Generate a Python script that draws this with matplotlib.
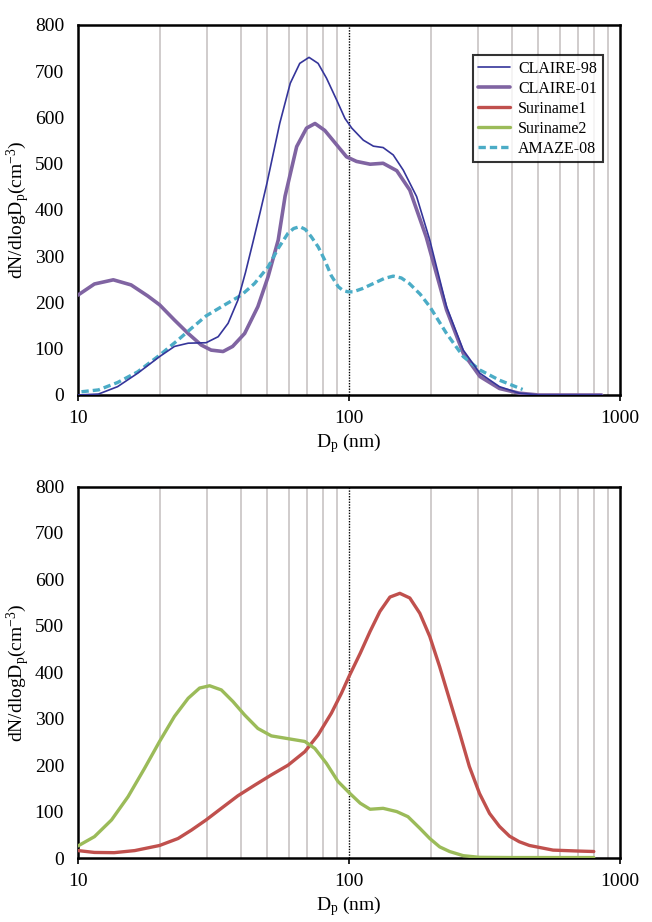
import matplotlib
matplotlib.use('Agg')
import matplotlib.pyplot as plt
from matplotlib.ticker import FixedLocator, NullLocator, FixedFormatter

plt.rcParams['font.family'] = ['Liberation Serif', 'DejaVu Serif']
plt.rcParams['mathtext.fontset'] = 'custom'
plt.rcParams['mathtext.rm'] = 'Liberation Serif'

# data (Dp in nm, dN/dlogDp in cm-3)
claire98_x = [10, 11.9, 14.0, 16.6, 20, 22.7, 25.5, 29.7, 32.9, 35.8, 38.9, 41.5, 44.2, 47.0, 49.8, 55.5,
              60.7, 65.8, 71.2, 76.9, 82.6, 90, 96.6, 102.4, 112.9, 123, 133.6, 145.6, 158.6, 177.6,
              198.6, 229, 264, 304, 359, 424, 500, 855]
claire98_y = [0, 2, 18, 47, 83, 105, 112, 113, 126, 155, 205, 265, 330, 395, 458, 587,
              674, 717, 730, 717, 685, 638, 598, 577, 551, 538, 535, 519, 486, 429,
              335, 191, 97, 47, 18, 4, 0, 0]

claire01_x = [10, 11.5, 13.5, 15.7, 18.1, 20, 22.7, 25.5, 28.5, 31.0, 34.3, 37.2, 41.2, 46.1, 50.3, 54.8,
              58.1, 64.1, 69.7, 74.9, 81.4, 90, 97.9, 106.6, 119.6, 133.6, 150, 167.6, 192.6,
              229, 264, 304, 359, 424, 500, 855]
claire01_y = [216, 240, 249, 238, 214, 195, 162, 133, 108, 97, 94, 105, 133, 191, 256, 335,
              430, 537, 577, 587, 572, 541, 515, 505, 499, 501, 485, 443, 342,
              184, 90, 40, 14, 4, 0, 0]

suriname1_x = [10, 11.5, 13.6, 16.2, 20, 23.4, 26.2, 29.7, 33.8, 38.9, 44.9, 51.7, 59.6, 68.7, 76.9, 86.1,
               93.8, 100, 110, 119.6, 130, 141.6, 154, 167.6, 182.5, 198.6, 216, 235, 256, 278, 303,
               330, 359, 391, 425, 463, 566, 700, 800]
suriname1_y = [16, 12, 11.5, 16, 27, 42, 60, 82, 107, 134, 157, 179, 200, 229, 265, 312,
               355, 391, 441, 488, 531, 562, 570, 560, 527, 477, 412, 341, 269, 197, 139,
               96, 68, 47, 35, 27, 17, 15, 14]

suriname2_x = [10, 11.5, 13.3, 15.3, 17.6, 20, 22.7, 25.5, 28.1, 30.6, 33.8, 37.3, 41.2, 46.1, 51.7, 59.6,
               68.7, 74.8, 82.5, 91.0, 100.8, 110, 119.6, 133.6, 150, 165, 182.5, 198.6, 216, 235, 264,
               303, 400, 800]
suriname2_y = [26, 46, 82, 132, 193, 251, 305, 344, 366, 371, 362, 337, 308, 279, 263, 257,
               251, 236, 204, 165, 139, 118, 105, 107, 100, 89, 64, 42, 24, 14, 5,
               1.5, 1, 1]

amaze08_x = [10.3, 11.9, 14.0, 16.6, 20, 23.4, 26.2, 29.7, 34.8, 40.1, 44.8, 50.3, 54.8, 59.6, 62.5, 65.8,
             69, 72.6, 77, 81.3, 86, 91.3, 95, 99.2, 103.5, 112, 123, 135, 145.6, 156, 167, 183,
             198.6, 229, 264, 304, 359, 437]
amaze08_y = [7, 11, 27, 50, 86, 119, 144, 171, 195, 216, 241, 277, 317, 350, 360, 364,
             358, 342, 320, 292, 258, 234, 226, 223, 223, 230, 241, 252, 257, 253, 241, 218,
             191, 133, 83, 54, 32, 12]

grid_pos = [20, 30, 40, 50, 60, 70, 80, 90, 200, 300, 400, 500, 600, 700, 800, 900]
y_ticks = [0, 100, 200, 300, 400, 500, 600, 700, 800]

c98 = '#35359a'
c01 = '#8064a2'
cs1 = '#c0504d'
cs2 = '#9bbb59'
cam = '#4bacc6'

fig = plt.figure(figsize=(6.52, 9.22), dpi=100)
ax1 = fig.add_axes([0.1196, 0.5716, 0.8314, 0.4013])
ax2 = fig.add_axes([0.1196, 0.0694, 0.8314, 0.4029])


def style(ax):
    ax.set_xscale('log')
    ax.set_xlim(10, 1000)
    ax.set_ylim(0, 800)
    for g in grid_pos:
        ax.axvline(g, color='#c3bfbf', lw=1.1, zorder=0)
    ax.axvline(100, color='black', lw=1.0, ls=(0, (1, 1)), zorder=0)
    ax.xaxis.set_major_locator(FixedLocator([10, 100, 1000]))
    ax.xaxis.set_major_formatter(FixedFormatter(['10', '100', '1000']))
    ax.xaxis.set_minor_locator(NullLocator())
    ax.set_yticks(y_ticks)
    ax.tick_params(axis='x', length=4, width=1.2, direction='out', labelsize=14, pad=7)
    ax.tick_params(axis='y', length=0, labelsize=14, pad=10)
    for s in ax.spines.values():
        s.set_linewidth(1.8)
        s.set_color('black')
    ax.set_xlabel(r'$\mathregular{D_p}$ (nm)', fontsize=14, labelpad=3)
    ax.set_ylabel(r'dN/dlogD$\mathregular{_p}$(cm$\mathregular{^{-3}}$)', fontsize=14, labelpad=2)


style(ax1)
style(ax2)

kw = dict(solid_joinstyle='round', solid_capstyle='round')
l1, = ax1.plot(claire98_x, claire98_y, color=c98, lw=1.2, label='CLAIRE-98', zorder=4, **kw)
l2, = ax1.plot(claire01_x, claire01_y, color=c01, lw=2.6, label='CLAIRE-01', zorder=3, **kw)
l5, = ax1.plot(amaze08_x, amaze08_y, color=cam, lw=2.4, ls=(0, (2.2, 1.2)), label='AMAZE-08', zorder=3)
l3, = ax2.plot(suriname1_x, suriname1_y, color=cs1, lw=2.4, label='Suriname1', zorder=3, **kw)
l4, = ax2.plot(suriname2_x, suriname2_y, color=cs2, lw=2.4, label='Suriname2', zorder=3, **kw)

leg = ax1.legend([l1, l2, l3, l4, l5], ['CLAIRE-98', 'CLAIRE-01', 'Suriname1', 'Suriname2', 'AMAZE-08'],
                 loc='upper right', bbox_to_anchor=(0.968, 0.918), fontsize=11.5, frameon=True,
                 fancybox=False, handlelength=2.0, handletextpad=0.5, borderpad=0.35, labelspacing=0.25,
                 borderaxespad=0)
leg.get_frame().set_edgecolor('black')
leg.get_frame().set_linewidth(1.5)

fig.savefig('out.png', dpi=100)
